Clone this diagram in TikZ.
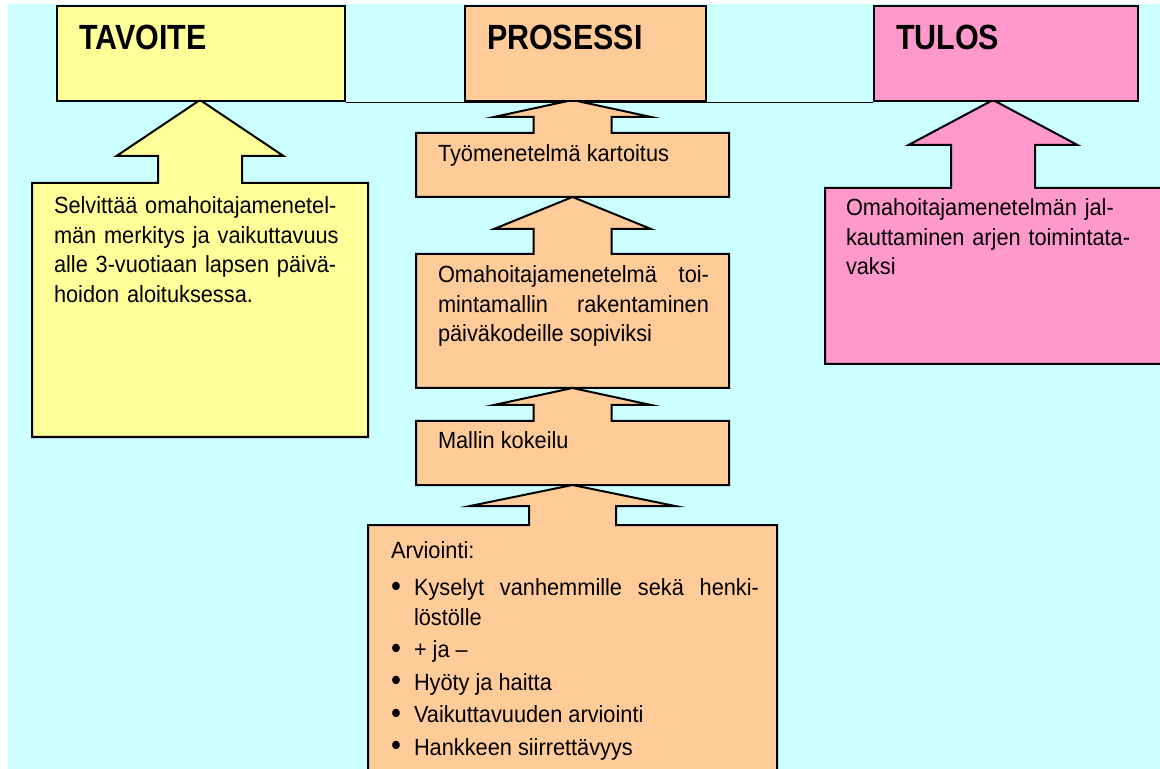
\documentclass[tikz,border=0pt]{standalone}
\usepackage{fontspec}
\setmainfont{Liberation Sans}
\newfontfamily\bodyfont{Liberation Sans}[FakeStretch=0.93]
\newfontfamily\titlefont{Liberation Sans}[FakeStretch=0.87]
\usetikzlibrary{backgrounds}
\definecolor{bgcyan}{HTML}{CCFFFF}
\definecolor{goalyellow}{HTML}{FFFF99}
\definecolor{procorange}{HTML}{FFCC99}
\definecolor{resultpink}{HTML}{FF99CC}
% box with an up arrow on top:
% #1 left, #2 right, #3 top, #4 bottom, #5 tip, #6 head base, #7 head half width, #8 shaft half width, #9 fill
\newcommand{\upcallout}[9]{%
  \pgfmathsetmacro{\cx}{(#1+#2)/2}%
  \draw[fill=#9] (#1,#3) -- ({\cx-#8},#3) -- ({\cx-#8},#6) -- ({\cx-#7},#6) -- (\cx,#5)
    -- ({\cx+#7},#6) -- ({\cx+#8},#6) -- ({\cx+#8},#3) -- (#2,#3) -- (#2,#4) -- (#1,#4) -- cycle;}
\newcommand{\bitem}[1]{\hangindent=11.5pt\hangafter=1\noindent\makebox[11.5pt][l]{\raisebox{-0.4pt}{\scalebox{1.3}{\textbullet}}}#1\par}
% first line top sits 10pt above its baseline
\newcommand{\topstrut}{\rule{0pt}{10pt}}
\begin{document}
\begin{tikzpicture}[x=0.5pt, y=-0.5pt, line width=1pt,
   topbox/.style={draw, minimum height=47.5pt, inner sep=0pt, anchor=north west},
   title/.style={font=\titlefont\fontsize{17.5}{20}\selectfont\bfseries, inner sep=0pt, anchor=base west},
   body/.style={font=\bodyfont\fontsize{11.7}{14.75}\selectfont, inner sep=0pt, anchor=north west, align=left}]
   \useasboundingbox (0,0) rectangle (1160,769);
   \clip (0,0) rectangle (1160,769);
   % callouts
   \upcallout{32}{368}{183}{437}{100}{156}{83.5}{42}{goalyellow}
   \upcallout{416}{729}{133}{197}{100}{117}{78.5}{39}{procorange}
   \upcallout{416}{729}{254}{388}{197}{229}{78.5}{39}{procorange}
   \upcallout{416}{729}{421}{485}{388}{405}{78.5}{39}{procorange}
   \upcallout{368}{777}{525}{800}{485}{506}{102.5}{43.5}{procorange}
   \upcallout{825}{1161}{188}{364}{100}{145}{84.5}{42}{resultpink}
   % top row
   \node[topbox, fill=goalyellow, minimum width=144pt] (tavoite) at (56,5) {};
   \node[topbox, fill=procorange, minimum width=120.5pt] (prosessi) at (464,5) {};
   \node[topbox, fill=resultpink, minimum width=132pt] (tulos) at (873,5) {};
   \node[title] (tavoitetxt) at (78,50) {TAVOITE};
   \node[title] (prosessitxt) at (486,50) {PROSESSI};
   \node[title] (tulostxt) at (895,50) {TULOS};
   % texts
   \node[body, text width=150pt] (goaltxt) at (53,193) {\topstrut Selvittää omahoitajamenetel-\\män merkitys ja vaikuttavuus\\alle 3-vuotiaan lapsen päivä-\\hoidon aloituksessa.};
   \node[body, anchor=base west] (step1) at (437,162) {Työmenetelmä kartoitus};
   \node[body, text width=135.5pt, align=justify] (step2) at (437,262) {\topstrut Omahoitajamenetelmä toi-\linebreak mintamallin rakentaminen\linebreak päiväkodeille sopiviksi};
   \node[body, anchor=base west] (step3) at (437,449) {Mallin kokeilu};
   \node[body, text width=184pt, align=justify] (step4) at (390,537) {\setlength{\parskip}{1.5pt}\topstrut Arviointi:\par\vspace{2.5pt}
      \bitem{Kyselyt vanhemmille sekä henki-\linebreak löstölle}
      \bitem{+ ja –}
      \bitem{Hyöty ja haitta}
      \bitem{Vaikuttavuuden arviointi}
      \bitem{Hankkeen siirrettävyys}};
   \node[body, text width=150pt] (resulttxt) at (845,195) {\topstrut Omahoitajamenetelmän jal-\\kauttaminen arjen toimintata-\\vaksi};
   \begin{scope}[on background layer]
      \fill[bgcyan] (8,4) rectangle (1160,769);
      \draw (tavoite.south east) -- (tulos.south west);
   \end{scope}
\end{tikzpicture}
\end{document}
